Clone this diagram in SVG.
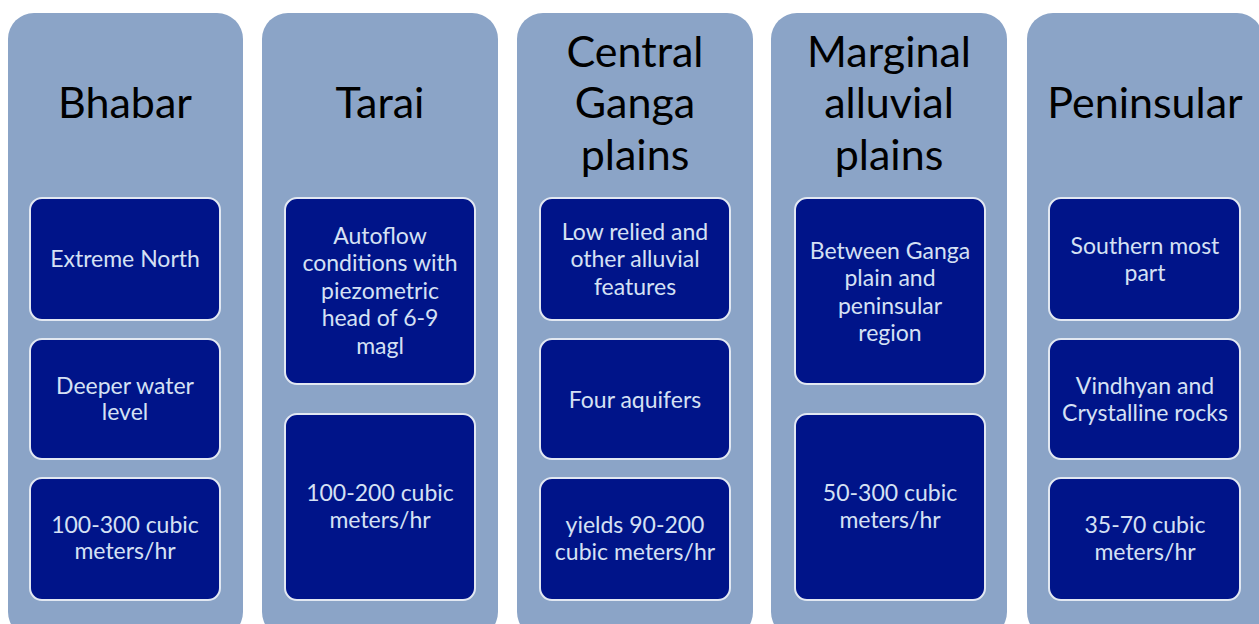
<svg xmlns="http://www.w3.org/2000/svg" width="1259" height="624" viewBox="0 0 1259 624">
<style>
.col{fill:#8BA4C7;}
.box{fill:#001489;stroke:#E2E8F2;stroke-width:2;}
.h{font-family:Lato,"Open Sans",sans-serif;font-size:43px;fill:#000;text-anchor:middle;}
.t{font-family:Lato,"Open Sans",sans-serif;font-size:23px;fill:#D5E1F4;text-anchor:middle;}
</style>
<rect width="1259" height="624" fill="#fff"/>
<g id="col-bhabar">
<rect class="col" x="8" y="13" width="235" height="625" rx="26"/>
<text class="h" x="125" y="118">Bhabar</text>
<rect class="box" x="30" y="198" width="190" height="122" rx="12"/>
<text class="t" x="125" y="267">Extreme North</text>
<rect class="box" x="30" y="339" width="190" height="120" rx="12"/>
<text class="t" x="125" y="394">Deeper water</text>
<text class="t" x="125" y="420">level</text>
<rect class="box" x="30" y="478" width="190" height="122" rx="12"/>
<text class="t" x="125" y="533">100-300 cubic</text>
<text class="t" x="125" y="559">meters/hr</text>
</g>
<g id="col-tarai">
<rect class="col" x="262" y="13" width="236" height="625" rx="26"/>
<text class="h" x="380" y="118">Tarai</text>
<rect class="box" x="285" y="198" width="190" height="186" rx="12"/>
<text class="t" x="380" y="244">Autoflow</text>
<text class="t" x="380" y="271">conditions with</text>
<text class="t" x="380" y="299">piezometric</text>
<text class="t" x="380" y="326">head of 6-9</text>
<text class="t" x="380" y="354">magl</text>
<rect class="box" x="285" y="414" width="190" height="186" rx="12"/>
<text class="t" x="380" y="501">100-200 cubic</text>
<text class="t" x="380" y="528">meters/hr</text>
</g>
<g id="col-central">
<rect class="col" x="517" y="13" width="236" height="625" rx="26"/>
<text class="h" x="635" y="67">Central</text>
<text class="h" x="635" y="118">Ganga</text>
<text class="h" x="635" y="170">plains</text>
<rect class="box" x="540" y="198" width="190" height="122" rx="12"/>
<text class="t" x="635" y="240">Low relied and</text>
<text class="t" x="635" y="267">other alluvial</text>
<text class="t" x="635" y="295">features</text>
<rect class="box" x="540" y="339" width="190" height="120" rx="12"/>
<text class="t" x="635" y="408">Four aquifers</text>
<rect class="box" x="540" y="478" width="190" height="122" rx="12"/>
<text class="t" x="635" y="533">yields 90-200</text>
<text class="t" x="635" y="560">cubic meters/hr</text>
</g>
<g id="col-marginal">
<rect class="col" x="771" y="13" width="236" height="625" rx="26"/>
<text class="h" x="889" y="67">Marginal</text>
<text class="h" x="889" y="118">alluvial</text>
<text class="h" x="889" y="170">plains</text>
<rect class="box" x="795" y="198" width="190" height="186" rx="12"/>
<text class="t" x="890" y="259">Between Ganga</text>
<text class="t" x="890" y="286">plain and</text>
<text class="t" x="890" y="314">peninsular</text>
<text class="t" x="890" y="341">region</text>
<rect class="box" x="795" y="414" width="190" height="186" rx="12"/>
<text class="t" x="890" y="501">50-300 cubic</text>
<text class="t" x="890" y="528">meters/hr</text>
</g>
<g id="col-peninsular">
<rect class="col" x="1027" y="13" width="236" height="625" rx="26"/>
<text class="h" x="1145" y="118">Peninsular</text>
<rect class="box" x="1049" y="198" width="191" height="122" rx="12"/>
<text class="t" x="1145" y="254">Southern most</text>
<text class="t" x="1145" y="281">part</text>
<rect class="box" x="1049" y="339" width="191" height="120" rx="12"/>
<text class="t" x="1145" y="394">Vindhyan and</text>
<text class="t" x="1145" y="421">Crystalline rocks</text>
<rect class="box" x="1049" y="478" width="191" height="122" rx="12"/>
<text class="t" x="1145" y="533">35-70 cubic</text>
<text class="t" x="1145" y="560">meters/hr</text>
</g>
<g id="connectors"></g>
</svg>
